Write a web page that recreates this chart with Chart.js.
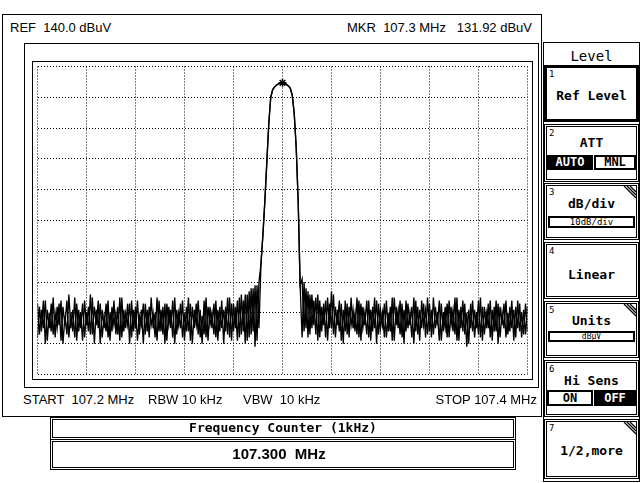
<!DOCTYPE html>
<html><head><meta charset="utf-8">
<script src="https://cdn.jsdelivr.net/npm/chart.js@4"></script>
<style>
html,body{margin:0;padding:0;background:#fff;}
body{width:640px;height:483px;position:relative;overflow:hidden;font-family:"Liberation Sans",Arial,sans-serif;color:#000;}
.a{position:absolute;box-sizing:border-box;}
.t{position:absolute;white-space:pre;font-size:13px;line-height:14px;}
.mono{font-family:"DejaVu Sans Mono",monospace;}
.btn{position:absolute;left:544px;width:95px;box-sizing:border-box;border:3px double #000;background:#fff;}
.btn .n{position:absolute;left:2px;top:1px;font-family:"DejaVu Sans Mono",monospace;font-size:9px;line-height:10px;}
.btn .c{position:absolute;left:0;right:0;text-align:center;font-family:"DejaVu Sans Mono",monospace;font-weight:bold;font-size:13px;line-height:14px;white-space:pre;}
.sub{position:absolute;box-sizing:border-box;border:2px solid #000;text-align:center;font-family:"DejaVu Sans Mono",monospace;}
.stripe{position:absolute;right:0;top:0;}
</style></head>
<body>
<!-- main frames -->
<div class="a" style="left:2px;top:14px;width:540px;height:403px;border:1px solid #000;"></div>
<div class="a" style="left:24px;top:43px;width:515px;height:345px;border:1px solid #000;"></div>
<div class="t" style="left:10px;top:21px;">REF  140.0 dBuV</div>
<div class="t" style="right:108px;top:21px;">MKR  107.3 MHz   131.92 dBuV</div>
<div class="a" style="left:32px;top:61px;width:501px;height:319px;">
  <canvas id="c" width="501" height="319" style="width:501px;height:319px;display:block;"></canvas>
</div>
<div class="a" style="left:32px;top:61px;width:501px;height:319px;border:1px solid #000;pointer-events:none;"></div>
<div class="t" style="left:23px;top:393px;">START  107.2 MHz</div>
<div class="t" style="left:148px;top:393px;">RBW 10 kHz</div>
<div class="t" style="left:243px;top:393px;">VBW  10 kHz</div>
<div class="t" style="right:103px;top:393px;">STOP 107.4 MHz</div>
<!-- frequency counter -->
<div class="a" style="left:50px;top:417px;width:466px;height:23px;border:3px double #000;"></div>
<div class="t mono" style="left:50px;width:466px;text-align:center;top:421px;font-size:13px;font-weight:bold;">Frequency Counter (1kHz)</div>
<div class="a" style="left:50px;top:439px;width:466px;height:31px;border:3px double #000;"></div>
<div class="t" style="left:46px;width:466px;text-align:center;top:446px;font-size:15px;line-height:16px;font-weight:bold;">107.300  MHz</div>
<!-- right panel -->
<div class="a" style="left:543px;top:42px;width:97px;height:440px;border:1px solid #000;"></div>
<div class="t mono" style="left:543px;width:97px;text-align:center;top:49px;font-size:14px;">Level</div>
<div class="btn" style="top:65px;height:57px;border:3px solid #000;"><span class="n">1</span><div class="c" style="top:21px;">Ref Level</div></div>
<div class="btn" style="top:124px;height:58px;"><span class="n">2</span><div class="c" style="top:9px;">ATT</div>
  <div class="sub" style="left:0px;top:28px;width:46px;height:15px;background:#000;color:#fff;font-weight:bold;font-size:12px;line-height:11px;">AUTO</div>
  <div class="sub" style="left:47px;top:28px;width:42px;height:15px;font-weight:bold;font-size:12px;line-height:11px;">MNL</div>
</div>
<div class="btn" style="top:183px;height:57px;"><span class="n">3</span><div class="c" style="top:11px;">dB/div</div>
  <svg class="stripe" width="18" height="18"><g stroke="#000" stroke-width="1.3"><line x1="6" y1="0" x2="18" y2="12"/><line x1="9" y1="0" x2="18" y2="9"/><line x1="12" y1="0" x2="18" y2="6"/></g></svg>
  <div class="sub" style="left:1px;top:30px;width:87px;height:12px;font-size:9px;line-height:8px;">10dB/div</div>
</div>
<div class="btn" style="top:242px;height:57px;"><span class="n">4</span><div class="c" style="top:23px;">Linear</div></div>
<div class="btn" style="top:301px;height:57px;"><span class="n">5</span><div class="c" style="top:10px;">Units</div>
  <svg class="stripe" width="18" height="18"><g stroke="#000" stroke-width="1.3"><line x1="6" y1="0" x2="18" y2="12"/><line x1="9" y1="0" x2="18" y2="9"/><line x1="12" y1="0" x2="18" y2="6"/></g></svg>
  <div class="sub" style="left:1px;top:27px;width:87px;height:11px;font-size:8px;line-height:7px;">dBμV</div>
</div>
<div class="btn" style="top:360px;height:57px;"><span class="n">6</span><div class="c" style="top:11px;">Hi Sens</div>
  <div class="sub" style="left:0px;top:27px;width:46px;height:16px;font-weight:bold;font-size:12px;line-height:12px;">ON</div>
  <div class="sub" style="left:47px;top:27px;width:42px;height:16px;background:#000;color:#fff;font-weight:bold;font-size:12px;line-height:12px;">OFF</div>
</div>
<div class="btn" style="top:419px;height:60px;"><span class="n">7</span><div class="c" style="top:22px;">1/2,more</div>
  <svg class="stripe" width="18" height="18"><g stroke="#000" stroke-width="1.3"><line x1="6" y1="0" x2="18" y2="12"/><line x1="9" y1="0" x2="18" y2="9"/><line x1="12" y1="0" x2="18" y2="6"/></g></svg>
</div>
<script>
// Sweep settings
const sweepStartMHz = 107.2;
const sweepStopMHz = 107.4;
const refLevelDb = 140;
const bottomLevelDb = 40;
const dbPerDiv = 10;
const freqPerDivMHz = 0.02;
// Sweep A levels (dBuV), one per sweep point
const sweepA = [
 63,53,61,55,64,51,60,54,65,52,
 62,56,64,50,59,53,66,55,61,52,
 63,54,60,51,64,56,62,53,65,50,
 61,55,63,52,59,54,64,51,62,56,
 60,53,65,52,61,55,63,50,64,54,
 62,51,59,56,63,53,61,52,65,55,
 60,51,64,54,62,50,63,56,61,52,
 65,53,60,55,64,51,62,54,63,50,
 61,56,64,52,59,53,65,51,62,55,
 63,52,61,54,64,50,62,53,65,51,
 63,55,64,52,66,54,66,51,67,53,
 68,49,69,55,75.8,85.3,96.3,108.9,121.4,130,
 132.5,133.4,134,134.4,134.6,134.7,134.5,134.2,133.7,132.9,
 130.6,124.6,113.6,96.3,69,52,70,55,67,53,
 66,56,65,51,64,54,63,52,65,55,
 67,53,62,56,64,51,61,54,63,52,
 65,55,60,53,64,51,62,56,64,52,
 61,54,65,50,63,55,60,52,64,54,
 62,51,65,56,61,53,63,50,64,55,
 60,52,65,54,62,51,64,56,61,53,
 63,52,65,55,60,51,63,54,62,52,
 64,56,61,53,65,51,62,54,63,49,
 61,55,64,52,60,53,65,51,62,55,
 63,52,61,54,64,50,62,56,63,52,
 60,54,64,51,62,55,63,52,61,53,
 62
];
// Sweep B levels (dBuV), a second overlaid sweep
const sweepB = [
 52,62,54,64,50,61,55,63,53,60,
 55,63,51,62,56,64,52,60,54,65,
 51,61,55,63,52,60,54,66,53,62,
 56,64,50,61,55,63,52,60,54,64,
 53,62,51,65,54,60,56,63,52,61,
 55,64,53,61,50,63,54,62,56,60,
 52,65,54,61,53,63,51,62,55,64,
 50,61,56,63,52,60,54,65,51,62,
 55,63,53,61,50,64,52,62,56,60,
 53,64,51,62,55,61,54,65,52,63,
 54,62,51,65,53,64,50,66,52,68,
 54,69,51,70,75.8,85.3,96.3,108.9,121.4,130,
 132.5,133.4,134,134.4,134.6,134.7,134.5,134.2,133.7,132.9,
 130.6,124.6,113.6,96.3,69,71,54,68,52,66,
 55,64,53,66,52,62,56,64,51,63,
 55,66,52,61,54,63,50,64,53,62,
 56,61,54,65,52,63,55,60,53,64,
 51,62,55,64,53,61,56,63,52,60,
 54,65,51,62,55,64,52,61,54,63,
 56,62,50,64,53,61,55,63,52,65,
 54,61,53,62,56,64,51,60,55,63,
 52,62,54,65,51,61,55,64,53,60,
 50,63,54,61,55,64,52,62,53,60,
 55,64,51,62,54,63,52,60,55,64,
 53,62,55,61,52,64,54,60,53,63,
 54
];
const markerFreq = [107.3];
const markerLevel = [134.7];

function toPoints(levels) {
  const step = (sweepStopMHz - sweepStartMHz) / (levels.length - 1);
  return levels.map((v, i) => ({x: sweepStartMHz + i * step, y: v}));
}
const markerPoints = markerFreq.map((f, i) => ({x: f, y: markerLevel[i]}));

const traceStyle = {borderColor:'#000', borderWidth:1.35, pointRadius:0, tension:0, fill:false};
const gridOpts = {color:'#000', lineWidth:1, drawTicks:false};
new Chart(document.getElementById('c'), {
  type: 'line',
  data: {datasets: [
    Object.assign({data: toPoints(sweepA)}, traceStyle),
    Object.assign({data: toPoints(sweepB)}, traceStyle),
    {type:'scatter', data: markerPoints, pointStyle:'star', pointRadius:4, borderColor:'#000', backgroundColor:'#000', borderWidth:1.5}
  ]},
  options: {
    animation:false, responsive:false, devicePixelRatio:1,
    layout:{padding:{left:0, top:0, right:1, bottom:1}},
    plugins:{legend:{display:false}, tooltip:{enabled:false}},
    scales:{
      x:{type:'linear', min:sweepStartMHz, max:sweepStopMHz,
         ticks:{display:false, stepSize:freqPerDivMHz}, grid:gridOpts, border:{display:false, dash:[1,2]}},
      y:{type:'linear', min:bottomLevelDb, max:refLevelDb,
         ticks:{display:false, stepSize:dbPerDiv}, grid:gridOpts, border:{display:false, dash:[1,2]}}
    }
  }
});
</script>
</body></html>
